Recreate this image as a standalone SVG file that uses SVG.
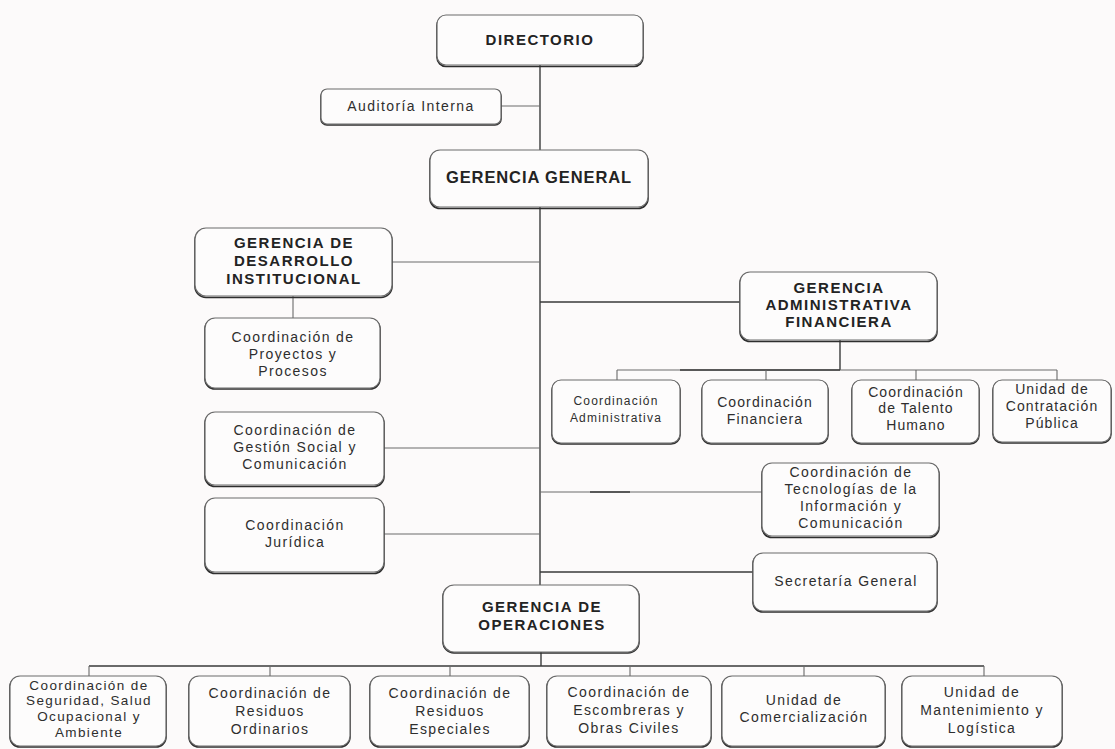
<svg xmlns="http://www.w3.org/2000/svg" width="1115" height="749" viewBox="0 0 1115 749">
<style>
.bg{fill:#fcfafa}
.bx{fill:#fdfcfc;stroke:#6a6a6a;stroke-width:1.2}
.sh{fill:none;stroke:#2e2e2e;stroke-width:1.6}
.ln{fill:none;stroke:#3a3a3a;stroke-width:1.4}
.lt{fill:none;stroke:#6a6a6a;stroke-width:1.1}
text{font-family:"Liberation Sans",Arial,sans-serif;text-anchor:middle;fill:#2e2e2e}
.b{font-weight:bold;fill:#232323;font-size:15px;letter-spacing:1.5px}
.t{font-size:14px;letter-spacing:1.4px}
.s{font-size:12px;letter-spacing:1.2px}
</style>
<rect class="bg" x="0" y="0" width="1115" height="749"/>
<g id="connectors">
<path class="ln" d="M540 65V585"/>
<path class="lt" d="M501 106H540"/>
<path class="lt" d="M392 262H540"/>
<path class="lt" d="M293 296V318"/>
<path class="ln" d="M540 302H740"/>
<path class="ln" d="M840 340V370"/>
<path class="lt" d="M617 370H1057"/>
<path class="ln" d="M680 370H840"/>
<path class="lt" d="M617 370V380M766 370V380M916 370V380M1057 370V380"/>
<path class="lt" d="M384 448H540"/>
<path class="lt" d="M384 534H540"/>
<path class="lt" d="M540 492H762"/>
<path class="ln" d="M590 492H630"/>
<path class="ln" d="M540 572H753"/>
<path class="ln" d="M541 652V666"/>
<path class="ln" d="M89 666H984"/>
<path class="lt" d="M89 666V676M270 666V676M450 666V676M630 666V676M804 666V676M984 666V676"/>
</g>
<g id="directorio">
<rect class="sh" x="437" y="16.5" width="206" height="50" rx="9"/>
<rect class="bx" x="437" y="15" width="206" height="50" rx="9"/>
<text class="b" x="540" y="45">DIRECTORIO</text>
</g>
<g id="auditoria">
<rect class="sh" x="321" y="90" width="180" height="35" rx="6"/>
<rect class="bx" x="321" y="89" width="180" height="35" rx="6"/>
<text class="t" x="411" y="111">Auditoría Interna</text>
</g>
<g id="gerencia-general">
<rect class="sh" x="430" y="151.5" width="218" height="57" rx="10"/>
<rect class="bx" x="430" y="150" width="218" height="57" rx="10"/>
<text class="b" x="539" y="183" style="font-size:16.5px;letter-spacing:0.9px">GERENCIA GENERAL</text>
</g>
<g id="gerencia-desarrollo">
<rect class="sh" x="195" y="229.5" width="197" height="68" rx="11"/>
<rect class="bx" x="195" y="228" width="197" height="68" rx="11"/>
<text class="b" x="294" y="248">GERENCIA DE</text>
<text class="b" x="294" y="266">DESARROLLO</text>
<text class="b" x="294" y="284">INSTITUCIONAL</text>
</g>
<g id="coord-proyectos">
<rect class="sh" x="205" y="319" width="175" height="70" rx="10"/>
<rect class="bx" x="205" y="318" width="175" height="70" rx="10"/>
<text class="t" x="293" y="342">Coordinación de</text>
<text class="t" x="293" y="359">Proyectos y</text>
<text class="t" x="293" y="376">Procesos</text>
</g>
<g id="coord-gestion-social">
<rect class="sh" x="205" y="413.5" width="179" height="73" rx="10"/>
<rect class="bx" x="205" y="412" width="179" height="73" rx="10"/>
<text class="t" x="295" y="435">Coordinación de</text>
<text class="t" x="295" y="452">Gestión Social y</text>
<text class="t" x="295" y="469">Comunicación</text>
</g>
<g id="coord-juridica">
<rect class="sh" x="205" y="499.5" width="179" height="74" rx="10"/>
<rect class="bx" x="205" y="498" width="179" height="74" rx="10"/>
<text class="t" x="295" y="530">Coordinación</text>
<text class="t" x="295" y="547">Jurídica</text>
</g>
<g id="gerencia-administrativa">
<rect class="sh" x="740" y="273.5" width="197" height="68" rx="10"/>
<rect class="bx" x="740" y="272" width="197" height="68" rx="10"/>
<text class="b" x="839" y="293">GERENCIA</text>
<text class="b" x="839" y="310">ADMINISTRATIVA</text>
<text class="b" x="839" y="327">FINANCIERA</text>
</g>
<g id="coord-administrativa">
<rect class="sh" x="552" y="381" width="128" height="63" rx="9"/>
<rect class="bx" x="552" y="380" width="128" height="63" rx="9"/>
<text class="s" x="616" y="405">Coordinación</text>
<text class="s" x="616" y="422">Administrativa</text>
</g>
<g id="coord-financiera">
<rect class="sh" x="702" y="381" width="126" height="63" rx="9"/>
<rect class="bx" x="702" y="380" width="126" height="63" rx="9"/>
<text class="t" x="765" y="407" style="letter-spacing:1.1px">Coordinación</text>
<text class="t" x="765" y="424" style="letter-spacing:1.1px">Financiera</text>
</g>
<g id="coord-talento">
<rect class="sh" x="852" y="381" width="127" height="63" rx="9"/>
<rect class="bx" x="852" y="380" width="127" height="63" rx="9"/>
<text class="t" x="916" y="397" style="letter-spacing:1.1px">Coordinación</text>
<text class="t" x="916" y="413" style="letter-spacing:1.1px">de Talento</text>
<text class="t" x="916" y="430" style="letter-spacing:1.1px">Humano</text>
</g>
<g id="unidad-contratacion">
<rect class="sh" x="993" y="381" width="118" height="62" rx="9"/>
<rect class="bx" x="993" y="380" width="118" height="62" rx="9"/>
<text class="t" x="1052" y="394" style="letter-spacing:1.1px">Unidad de</text>
<text class="t" x="1052" y="411" style="letter-spacing:1.1px">Contratación</text>
<text class="t" x="1052" y="428" style="letter-spacing:1.1px">Pública</text>
</g>
<g id="coord-tecnologias">
<rect class="sh" x="762" y="464.5" width="177" height="73" rx="10"/>
<rect class="bx" x="762" y="463" width="177" height="73" rx="10"/>
<text class="t" x="851" y="477">Coordinación de</text>
<text class="t" x="851" y="494">Tecnologías de la</text>
<text class="t" x="851" y="511">Información y</text>
<text class="t" x="851" y="528">Comunicación</text>
</g>
<g id="secretaria-general">
<rect class="sh" x="753" y="554" width="184" height="58" rx="10"/>
<rect class="bx" x="753" y="553" width="184" height="58" rx="10"/>
<text class="t" x="846" y="586">Secretaría General</text>
</g>
<g id="gerencia-operaciones">
<rect class="sh" x="443" y="586" width="196" height="67" rx="11"/>
<rect class="bx" x="443" y="585" width="196" height="67" rx="11"/>
<text class="b" x="542" y="612">GERENCIA DE</text>
<text class="b" x="542" y="630">OPERACIONES</text>
</g>
<g id="coord-seguridad">
<rect class="sh" x="10" y="677" width="156" height="70" rx="10"/>
<rect class="bx" x="10" y="676" width="156" height="70" rx="10"/>
<text class="t" x="89" y="690" style="font-size:13.5px">Coordinación de</text>
<text class="t" x="89" y="705" style="font-size:13.5px">Seguridad, Salud</text>
<text class="t" x="89" y="721" style="font-size:13.5px">Ocupacional y</text>
<text class="t" x="89" y="737" style="font-size:13.5px">Ambiente</text>
</g>
<g id="coord-residuos-ordinarios">
<rect class="sh" x="189" y="677" width="161" height="70" rx="10"/>
<rect class="bx" x="189" y="676" width="161" height="70" rx="10"/>
<text class="t" x="270" y="698">Coordinación de</text>
<text class="t" x="270" y="716">Residuos</text>
<text class="t" x="270" y="734">Ordinarios</text>
</g>
<g id="coord-residuos-especiales">
<rect class="sh" x="370" y="677" width="159" height="70" rx="10"/>
<rect class="bx" x="370" y="676" width="159" height="70" rx="10"/>
<text class="t" x="450" y="698">Coordinación de</text>
<text class="t" x="450" y="716">Residuos</text>
<text class="t" x="450" y="734">Especiales</text>
</g>
<g id="coord-escombreras">
<rect class="sh" x="547" y="677" width="164" height="70" rx="10"/>
<rect class="bx" x="547" y="676" width="164" height="70" rx="10"/>
<text class="t" x="629" y="697">Coordinación de</text>
<text class="t" x="629" y="715">Escombreras y</text>
<text class="t" x="629" y="733">Obras Civiles</text>
</g>
<g id="unidad-comercializacion">
<rect class="sh" x="722" y="677" width="163" height="70" rx="10"/>
<rect class="bx" x="722" y="676" width="163" height="70" rx="10"/>
<text class="t" x="804" y="705">Unidad de</text>
<text class="t" x="804" y="722">Comercialización</text>
</g>
<g id="unidad-mantenimiento">
<rect class="sh" x="902" y="677" width="160" height="70" rx="10"/>
<rect class="bx" x="902" y="676" width="160" height="70" rx="10"/>
<text class="t" x="982" y="697">Unidad de</text>
<text class="t" x="982" y="715">Mantenimiento y</text>
<text class="t" x="982" y="733">Logística</text>
</g>
</svg>
